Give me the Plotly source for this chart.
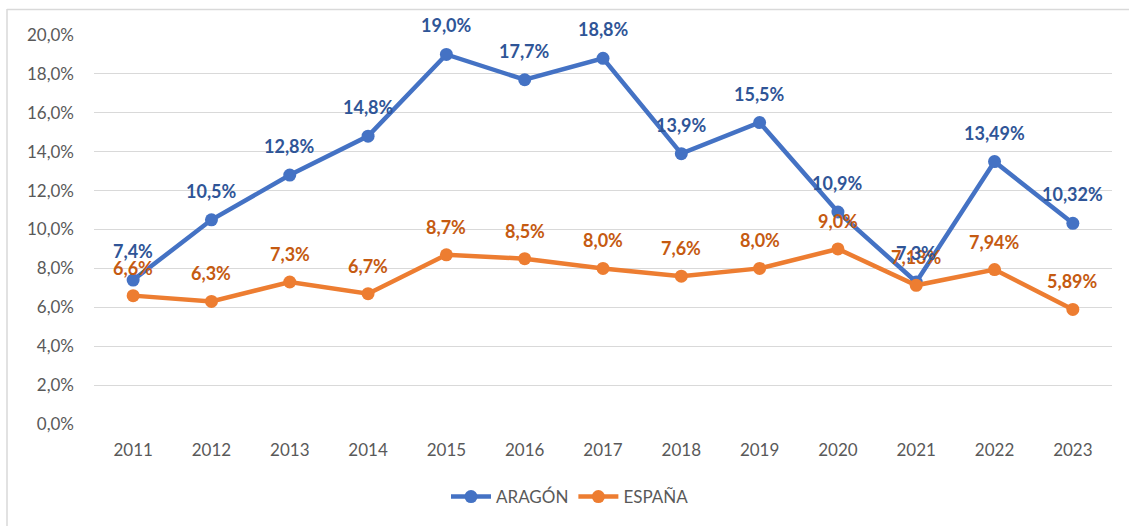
import plotly.graph_objects as go

years = [2011, 2012, 2013, 2014, 2015, 2016, 2017, 2018, 2019, 2020, 2021, 2022, 2023]
aragon = [7.4, 10.5, 12.8, 14.8, 19.0, 17.7, 18.8, 13.9, 15.5, 10.9, 7.3, 13.49, 10.32]
espana = [6.6, 6.3, 7.3, 6.7, 8.7, 8.5, 8.0, 7.6, 8.0, 9.0, 7.13, 7.94, 5.89]
aragon_labels = ["7,4%", "10,5%", "12,8%", "14,8%", "19,0%", "17,7%", "18,8%", "13,9%", "15,5%", "10,9%", "7,3%", "13,49%", "10,32%"]
espana_labels = ["6,6%", "6,3%", "7,3%", "6,7%", "8,7%", "8,5%", "8,0%", "7,6%", "8,0%", "9,0%", "7,13%", "7,94%", "5,89%"]
y_ticks = [0, 2, 4, 6, 8, 10, 12, 14, 16, 18, 20]
y_tick_text = ["0,0%", "2,0%", "4,0%", "6,0%", "8,0%", "10,0%", "12,0%", "14,0%", "16,0%", "18,0%", "20,0%"]

BLUE = "#4472C4"
ORANGE = "#ED7D31"
BLUE_TXT = "#2F5597"
ORANGE_TXT = "#C55A11"
GREY = "#595959"
GRID = "#D9D9D9"
FONT = "Lato"

fig = go.Figure()
fig.add_trace(go.Scatter(x=years, y=aragon, name="ARAGÓN", mode="lines+markers",
                         line=dict(color=BLUE, width=4.5), marker=dict(color=BLUE, size=13)))
fig.add_trace(go.Scatter(x=years, y=espana, name="ESPAÑA", mode="lines+markers",
                         line=dict(color=ORANGE, width=4.5), marker=dict(color=ORANGE, size=13)))

annotations = []
for yr, v, t in zip(years, espana, espana_labels):
    annotations.append(dict(x=yr, y=v, xref="x", yref="y", text=t, showarrow=False, yshift=28,
                            font=dict(family=FONT, size=18, color=ORANGE_TXT, weight="bold")))
for yr, v, t in zip(years, aragon, aragon_labels):
    annotations.append(dict(x=yr, y=v, xref="x", yref="y", text=t, showarrow=False, yshift=29,
                            font=dict(family=FONT, size=18, color=BLUE_TXT, weight="bold")))

L, R, T, B = 94, 1112, 35, 424
W, H = 1129, 526
pw, ph = R - L, B - T

def px(x):
    return (x - L) / pw

def py(y):
    return (B - y) / ph

shapes = [
    dict(type="line", xref="paper", yref="paper", x0=px(7), x1=px(7), y0=py(9), y1=py(H + 5),
         line=dict(color=GRID, width=1.5)),
    dict(type="line", xref="paper", yref="paper", x0=px(7), x1=px(W + 5), y0=py(9.5), y1=py(9.5),
         line=dict(color=GRID, width=1.5)),
]

fig.update_layout(
    width=W, height=H,
    margin=dict(l=L, r=W - R, t=T, b=H - B, autoexpand=False),
    paper_bgcolor="white", plot_bgcolor="white",
    font=dict(family=FONT, size=17, color=GREY),
    showlegend=True,
    legend=dict(orientation="h", x=px(570), xanchor="center",
                y=py(497), yanchor="middle", font=dict(family=FONT, size=17, color=GREY),
                traceorder="normal", itemwidth=40),
    annotations=annotations,
    shapes=shapes,
)
fig.update_xaxes(range=[years[0] - 0.5, years[-1] + 0.5], tickvals=years, ticktext=[str(y) for y in years],
                 showgrid=False, zeroline=False, showline=False, ticks="",
                 tickfont=dict(family=FONT, size=17, color=GREY), ticklabelstandoff=14)
fig.update_yaxes(range=[0, 20], tickvals=y_ticks, ticktext=y_tick_text,
                 showgrid=True, gridcolor=GRID, gridwidth=1, zeroline=False, showline=False,
                 ticks="", tickfont=dict(family=FONT, size=17, color=GREY), ticklabelstandoff=19)

fig.write_html("out.html", config={"displayModeBar": False},
               post_script="document.body.style.margin='0';")
